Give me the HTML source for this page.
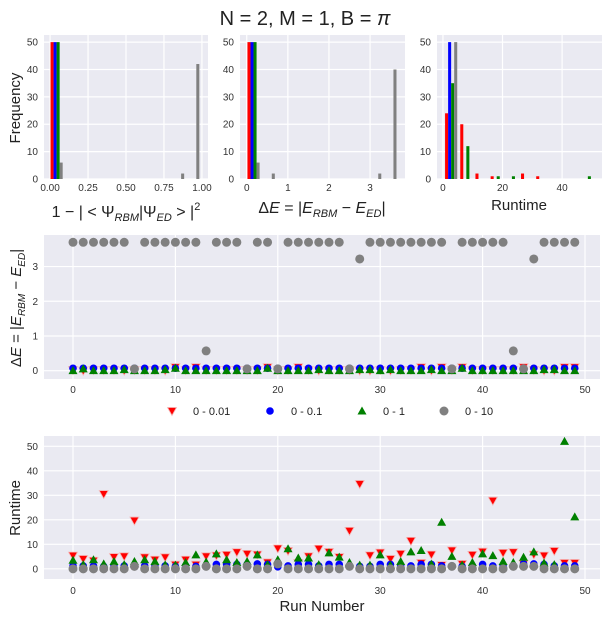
<!DOCTYPE html>
<html><head><meta charset="utf-8">
<style>
body{margin:0;background:#fff;}
svg{display:block;font-family:"Liberation Sans","DejaVu Sans",sans-serif;}
.tk{font-size:10px;fill:#333;}
</style></head>
<body>
<svg id="fig" width="609" height="620" viewBox="0 0 609 620" xmlns="http://www.w3.org/2000/svg">
<text x="305" y="25" text-anchor="middle" font-size="20" fill="#222">N = 2, M = 1, B = <tspan font-style="italic">π</tspan></text>
<text transform="translate(20,108) rotate(-90)" text-anchor="middle" font-size="15" fill="#222">Frequency</text>
<text x="126" y="217" text-anchor="middle" font-size="16" fill="#222">1 − | &lt; Ψ<tspan font-size="11" font-style="italic" dy="4">RBM</tspan><tspan dy="-4">|Ψ</tspan><tspan font-size="11" font-style="italic" dy="4">ED</tspan><tspan dy="-4"> &gt; |</tspan><tspan font-size="11" dy="-7">2</tspan></text>
<text x="322" y="213" text-anchor="middle" font-size="16" fill="#222">Δ<tspan font-style="italic">E</tspan> = |<tspan font-style="italic">E</tspan><tspan font-size="11" font-style="italic" dy="4">RBM</tspan><tspan dy="-4"> − </tspan><tspan font-style="italic">E</tspan><tspan font-size="11" font-style="italic" dy="4">ED</tspan><tspan dy="-4">|</tspan></text>
<text x="519" y="210" text-anchor="middle" font-size="15" fill="#222">Runtime</text>
<text transform="translate(21,308) rotate(-90)" text-anchor="middle" font-size="15" fill="#222">Δ<tspan font-style="italic">E</tspan> = |<tspan font-style="italic">E</tspan><tspan font-size="10" font-style="italic" dy="4">RBM</tspan><tspan dy="-4"> − </tspan><tspan font-style="italic">E</tspan><tspan font-size="10" font-style="italic" dy="4">ED</tspan><tspan dy="-4">|</tspan></text>
<text transform="translate(20,508) rotate(-90)" text-anchor="middle" font-size="15" fill="#222">Runtime</text>
<text x="322" y="611" text-anchor="middle" font-size="15" fill="#222">Run Number</text>
<g id="legend"></g>
</svg>
<script>
// ---- histogram data (counts per bin) ----
const fidBins = [-0.007, 0.1];            // start, width
const fidRed   = [50,0,0,0,0,0,0,0,0,0];
const fidBlue  = [50,0,0,0,0,0,0,0,0,0];
const fidGreen = [50,0,0,0,0,0,0,0,0,0];
const fidGrey  = [6,0,0,0,0,0,0,0,2,42];
const deBins = [-0.02, 0.37];
const deRed   = [50,0,0,0,0,0,0,0,0,0];
const deBlue  = [50,0,0,0,0,0,0,0,0,0];
const deGreen = [50,0,0,0,0,0,0,0,0,0];
const deGrey  = [6,2,0,0,0,0,0,0,2,40];
const rtBins = [0.2, 5.1];
const rtRed   = [24,20,2,1,0,2,1,0,0,0];
const rtBlue  = [50,0,0,0,0,0,0,0,0,0];
const rtGreen = [35,12,0,1,1,0,0,0,0,1];
const rtGrey  = [50,0,0,0,0,0,0,0,0,0];
const histTicksY = [0,10,20,30,40,50];
const fidTicks = ["0.00","0.25","0.50","0.75","1.00"];
const deTicks = ["0","1","2","3"];
const rtTicks = ["0","20","40"];
// ---- scatter data (run index 0..49) ----
const runTicks = [0,10,20,30,40,50];
const dEGrey = [3.7,3.7,3.7,3.7,3.7,3.7,0.05,3.7,3.7,3.7, 3.7,3.7,3.7,0.57,3.7,3.7,3.7,0.05,3.7,3.7, 0.05,3.7,3.7,3.7,3.7,3.7,3.7,0.05,3.22,3.7, 3.7,3.7,3.7,3.7,3.7,3.7,3.7,0.05,3.7,3.7, 3.7,3.7,3.7,0.57,0.05,3.22,3.7,3.7,3.7,3.7];
const dERed = [0.02,0.0,0.02,0.02,0.02,0.0,0.02,0.02,0.02,0.0, 0.1,0.02,0.1,0.02,0.02,0.02,0.02,0.02,0.02,0.1, 0.02,0.02,0.1,0.02,0.0,0.02,0.02,0.02,0.0,0.0, 0.02,0.0,0.02,0.02,0.1,0.0,0.1,0.02,0.1,0.02, 0.02,0.02,0.02,0.02,0.1,0.02,0.0,0.0,0.1,0.1];
const dEBlue = [0.07,0.07,0.07,0.07,0.07,0.07,0.07,0.07,0.07,0.07, 0.07,0.07,0.07,0.07,0.07,0.07,0.07,0.07,0.07,0.07, 0.07,0.07,0.07,0.07,0.07,0.07,0.07,0.07,0.07,0.07, 0.07,0.07,0.07,0.07,0.07,0.07,0.07,0.07,0.07,0.07, 0.07,0.07,0.07,0.07,0.07,0.07,0.07,0.07,0.07,0.07];
const dEGreen = [0.0,0.05,0.0,0.0,0.0,0.03,0.0,0.0,0.0,0.03, 0.07,0.0,0.0,0.0,0.0,0.0,0.0,0.0,0.0,0.07, 0.0,0.0,0.0,0.0,0.03,0.0,0.0,0.0,0.03,0.03, 0.0,0.03,0.0,0.0,0.0,0.03,0.0,0.0,0.07,0.0, 0.0,0.0,0.0,0.0,0.0,0.0,0.03,0.03,0.0,0.0];
const rtRedRun = [5.4,4,3.3,30.5,4.8,5.1,19.7,4.7,3.7,4.7, 1.7,3.7,1.7,5.1,5.4,5.7,6.8,6.1,5.8,2.6, 8.3,7.3,2.4,5.1,8.2,6.9,4.8,15.5,34.6,5.5, 6.6,4,6.1,11.4,2.4,5.8,1.5,7.5,2,5.7, 7,27.8,6.5,6.8,2,5.8,5.4,7.3,2.4,2.4];
const rtGreenRun = [3.5,1.7,3.7,2,3,1.7,3,3.7,3,1.6, 1.5,2.6,5.7,2.8,6.1,3.7,2.6,3,5.7,1.7, 3.7,8.2,4.4,4.4,1.7,6.5,4.8,2.6,1.5,1.5, 5.7,1.5,3,6.9,7.5,1.9,19,5.1,1.5,2.6, 6.1,5.4,3,2.6,4.7,6.9,2.4,1.7,52,21.2];
const rtBlueRun = [1.2,1.2,1.2,1.0,1.2,1.2,1.2,1.2,1.2,1.2, 1.0,1.2,1.0,1.2,1.8,1.8,1.8,1.8,2.0,1.8, 0.8,1.2,1.8,1.8,1.2,1.8,1.8,1.2,1.0,1.0, 1.8,1.8,1.2,1.2,1.8,1.8,1.2,1.2,1.0,1.2, 1.8,1.2,1.2,1.2,2.0,2.0,1.8,1.2,1.2,1.2];
const rtGreyRun = [0,0,0,0,0,0,1,0,0,0, 0,0,0,1,0,0,0,1,0,0, 2,0,0,0,0,0,0,1,0,0, 0,0,0,0,0,0,0,1,0,0, 0,0,0,1,1,1,0,0,0,0];

const NS='http://www.w3.org/2000/svg';
const svg=document.getElementById('fig');
const C={red:'#ff0000',blue:'#0000ff',green:'#008000',grey:'#808080'};
function mk(tag,attrs,parent){const e=document.createElementNS(NS,tag);for(const k in attrs)e.setAttribute(k,attrs[k]);(parent||svg).appendChild(e);return e;}
function lin(d0,d1,r0,r1){return v=>r0+(v-d0)/(d1-d0)*(r1-r0);}

function panel(name,x0,x1,y0,y1,sx,sy,xt,xtl,yt,xty){
  const g=mk('g',{});
  
  
  const bg=mk('rect',{x:x0,y:y0,width:x1-x0,height:y1-y0,fill:'#eaeaf2'},g);
  
  
  xt.forEach((v,i)=>{const x=sx(v);mk('line',{x1:x,x2:x,y1:y0,y2:y1,stroke:'#fff','stroke-width':1.2},g);
    const t=mk('text',{x:x,y:xty,'text-anchor':'middle',class:'tk'},g);t.textContent=xtl[i];
    
    });
  yt.forEach(v=>{const y=sy(v);mk('line',{x1:x0,x2:x1,y1:y,y2:y,stroke:'#fff','stroke-width':1.2},g);
    const t=mk('text',{x:x0-6,y:y+3.5,'text-anchor':'end',class:'tk'},g);t.textContent=String(v);
    
    });
  return g;
}

function hist(name,x0,x1,dx0,dx1,bins,series,xt,xtl){
  const sx=lin(dx0,dx1,x0,x1), sy=lin(0,52.6,179,35);
  const g=panel(name,x0,x1,35,179,sx,sy,xt,xtl,histTicksY,191);
  const cols=[C.red,C.blue,C.green,C.grey];
  const w=bins[1];
  series.forEach((arr,k)=>arr.forEach((c,i)=>{
    if(!c)return;
    const a=bins[0]+i*w+w*(0.1+0.2*k), b=a+0.2*w;
    const r=mk('rect',{x:sx(a),y:sy(c),width:Math.max(sx(b)-sx(a),1),height:sy(0)-sy(c),fill:cols[k]},g);
    
    
  }));
}
hist('fidelity-histogram',44,208,-0.04,1.04,fidBins,[fidRed,fidBlue,fidGreen,fidGrey],[0,0.25,0.5,0.75,1],fidTicks);
hist('energy-error-histogram',240,405,-0.164,3.85,deBins,[deRed,deBlue,deGreen,deGrey],[0,1,2,3],deTicks);
hist('runtime-histogram',437,602,-2.0,53.4,rtBins,[rtRed,rtBlue,rtGreen,rtGrey],[0,20,40],rtTicks);

function marker(g,type,x,y,col){
  let e;
  if(type==='down') e=mk('path',{d:`M${x-4.5},${y-3.5}L${x+4.5},${y-3.5}L${x},${y+4.5}Z`,fill:col,stroke:'#f4b6b6','stroke-width':0.8},g);
  else if(type==='up') e=mk('path',{d:`M${x-4.5},${y+3.5}L${x+4.5},${y+3.5}L${x},${y-4.5}Z`,fill:col},g);
  else e=mk('circle',{cx:x,cy:y,r:type==='big'?4.5:3.8,fill:col},g);
  
  
}
function scatter(name,y0,y1,dy0,dy1,yt,xty,data){
  const sx=lin(0,50,73,585), sy=lin(dy0,dy1,y1,y0);
  const g=panel(name,44,600,y0,y1,sx,sy,runTicks,runTicks.map(String),yt,xty);
  data.forEach(([arr,type,col])=>arr.forEach((v,i)=>marker(g,type,sx(i),sy(v),col)));
}
scatter('delta-e-scatter',235,379,-0.24,3.91,[0,1,2,3],393,
  [[dERed,'down',C.red],[dEBlue,'circ',C.blue],[dEGreen,'up',C.green],[dEGrey,'big',C.grey]]);
scatter('runtime-scatter',436,579,-4.15,54.2,[0,10,20,30,40,50],594,
  [[rtRedRun,'down',C.red],[rtBlueRun,'circ',C.blue],[rtGreenRun,'up',C.green],[rtGreyRun,'big',C.grey]]);

// legend
const leg=document.getElementById('legend');
const legendLabels=['0 - 0.01','0 - 0.1','0 - 1','0 - 10'];
const legendTypes=['down','circ','up','big'];
const legendCols=[C.red,C.blue,C.green,C.grey];
const legendX=[172,270,362,444];
legendLabels.forEach((l,i)=>{
  const g=mk('g',{},leg);
  
  
  marker(g,legendTypes[i],legendX[i],411,legendCols[i]);
  const t=mk('text',{x:legendX[i]+21,y:415,'font-size':11,fill:'#222'},g);
  t.textContent=l;
});
</script>
</body></html>
